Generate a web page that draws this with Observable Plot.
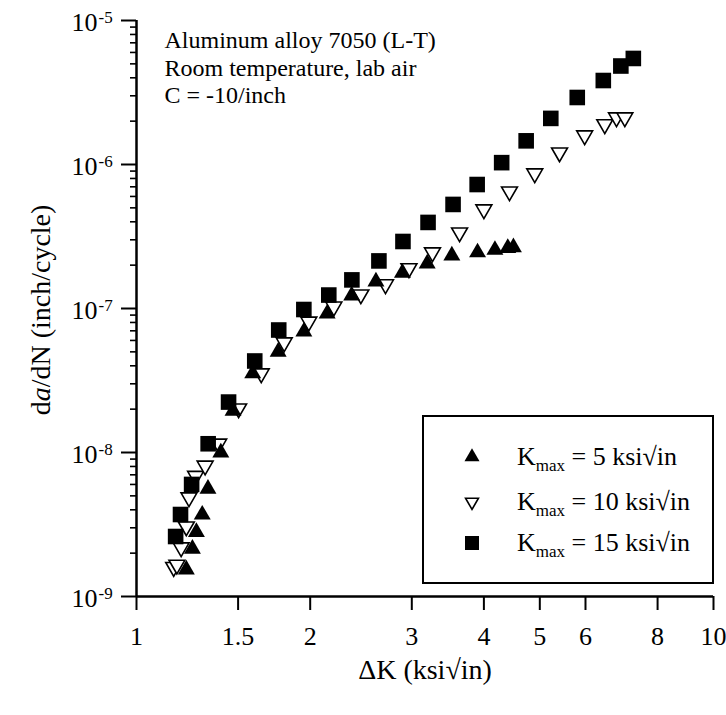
<!DOCTYPE html>
<html><head><meta charset="utf-8">
<script src="https://cdn.jsdelivr.net/npm/d3@7"></script>
<script src="https://cdn.jsdelivr.net/npm/@observablehq/plot@0.6"></script>
<style>body{margin:0;background:#fff} #chart{width:726px;height:715px}</style>
</head><body><div id="chart"></div>
<script>
// ΔK (ksi√in) and da/dN (inch/cycle) for each Kmax
const dk5  = [1.22, 1.25, 1.27, 1.30, 1.33, 1.40, 1.47, 1.59, 1.76, 1.95, 2.14, 2.36, 2.60, 2.89, 3.19, 3.52, 3.90, 4.18, 4.40, 4.50];
const da5  = [1.54e-9, 2.14e-9, 2.8e-9, 3.7e-9, 5.6e-9, 1.0e-8, 1.95e-8, 3.54e-8, 5.0e-8, 6.9e-8, 9.2e-8, 1.23e-7, 1.54e-7, 1.77e-7, 2.05e-7, 2.33e-7, 2.45e-7, 2.55e-7, 2.63e-7, 2.66e-7];
const dk10 = [1.16, 1.175, 1.195, 1.22, 1.233, 1.266, 1.315, 1.388, 1.503, 1.645, 1.803, 1.989, 2.198, 2.448, 2.701, 2.966, 3.258, 3.63, 4.0, 4.43, 4.9, 5.41, 5.98, 6.48, 6.79, 7.02];
const da10 = [1.6e-9, 1.66e-9, 2.19e-9, 3.06e-9, 4.87e-9, 6.87e-9, 8.1e-9, 1.15e-8, 2.02e-8, 3.54e-8, 5.81e-8, 8.1e-8, 1.03e-7, 1.25e-7, 1.47e-7, 1.90e-7, 2.45e-7, 3.37e-7, 4.87e-7, 6.49e-7, 8.66e-7, 1.21e-6, 1.59e-6, 1.90e-6, 2.12e-6, 2.12e-6];
const dk15 = [1.169, 1.192, 1.246, 1.331, 1.444, 1.603, 1.764, 1.95, 2.154, 2.362, 2.631, 2.896, 3.201, 3.537, 3.894, 4.294, 4.735, 5.224, 5.806, 6.442, 6.909, 7.262];
const da15 = [2.61e-9, 3.71e-9, 6.0e-9, 1.15e-8, 2.24e-8, 4.32e-8, 7.09e-8, 9.84e-8, 1.24e-7, 1.58e-7, 2.14e-7, 2.92e-7, 3.96e-7, 5.28e-7, 7.26e-7, 1.03e-6, 1.46e-6, 2.09e-6, 2.92e-6, 3.83e-6, 4.83e-6, 5.45e-6];

const seriesLabels = ["5", "10", "15"];
const xTicks = [1, 1.5, 2, 3, 4, 5, 6, 8, 10];
const xTickLabels = ["1", "1.5", "2", "3", "4", "5", "6", "8", "10"];
const yMajor = [1e-9, 1e-8, 1e-7, 1e-6, 1e-5];
const yExp = ["-9", "-8", "-7", "-6", "-5"];
const notes = ["Aluminum alloy 7050 (L-T)", "Room temperature, lab air", "C = -10/inch"];

const yMinor = [];
for (let k = -9; k < -5; k++) for (let m = 2; m <= 9; m++) yMinor.push(m * Math.pow(10, k));

const s5 = dk5.map((x, i) => ({x, y: da5[i]}));
const s10 = dk10.map((x, i) => ({x, y: da10[i]}));
const s15 = dk15.map((x, i) => ({x, y: da15[i]}));

const FONT = "'Liberation Serif', 'Times New Roman', serif";

const chart = Plot.plot({
  width: 726, height: 715,
  marginLeft: 136, marginRight: 13, marginTop: 20, marginBottom: 119,
  style: {fontFamily: FONT, fontSize: "24px", background: "white", color: "black"},
  x: {type: "log", domain: [1, 10]},
  y: {type: "log", domain: [1e-9, 1e-5]},
  marks: [
    Plot.axisY({ticks: yMinor, tickSize: 6, tickFormat: () => "", strokeWidth: 1.6, label: null}),
    Plot.axisY({ticks: yMajor, tickSize: 15, tickFormat: () => "", strokeWidth: 2, label: null}),
    Plot.axisX({ticks: xTicks, tickSize: 14, tickPadding: 16, tickFormat: d => xTickLabels[xTicks.indexOf(d)], strokeWidth: 2, fontSize: 26, label: null}),
    Plot.ruleX([1], {strokeWidth: 2.5}),
    Plot.ruleY([1e-9], {strokeWidth: 2.5}),
    Plot.text(yMajor, {y: d => d, frameAnchor: "left", text: () => "10", textAnchor: "end", lineAnchor: "bottom", dx: -39, dy: 10, fontSize: 26}),
    Plot.text(yMajor, {y: d => d, frameAnchor: "left", text: (d, i) => yExp[i], textAnchor: "start", lineAnchor: "bottom", dx: -38, dy: 2, fontSize: 17}),
    Plot.text([notes.join("\n")], {frameAnchor: "top-left", text: d => d, textAnchor: "start", lineAnchor: "top", dx: 28, dy: 8, lineHeight: 1.15, fontSize: 24}),
    Plot.text(["ΔK (ksi√in)"], {frameAnchor: "bottom", text: d => d, lineAnchor: "bottom", dy: 82, fontSize: 28}),
    Plot.dot(s10, {x: "x", y: "y", symbol: "triangle", rotate: 180, r: 5.9, fill: "white", stroke: "black", strokeWidth: 1.6}),
    Plot.dot(s5, {x: "x", y: "y", symbol: "triangle", r: 6.3, fill: "black", stroke: "none"}),
    Plot.dot(s15, {x: "x", y: "y", symbol: "square", r: 8.8, fill: "black", stroke: "none"})
  ]
});
document.getElementById("chart").appendChild(chart);

const svg = d3.select(chart);
// y-axis title with italic a
const yt = svg.append("text")
  .attr("transform", "translate(50,310) rotate(-90)")
  .attr("text-anchor", "middle")
  .attr("font-family", FONT).attr("font-size", 28).attr("fill", "black");
yt.append("tspan").text("d");
yt.append("tspan").attr("font-style", "italic").text("a");
yt.append("tspan").text("/dN (inch/cycle)");

// legend
const lg = svg.append("g").attr("font-family", FONT).attr("fill", "black").attr("text-anchor", "start");
lg.append("rect").attr("x", 423).attr("y", 416).attr("width", 290).attr("height", 167)
  .attr("fill", "white").attr("stroke", "black").attr("stroke-width", 2);
const rows = [
  {y: 457, sym: d3.symbolTriangle, size: Math.PI * 5.6 * 5.6, rot: 0, fill: "black", stroke: "none"},
  {y: 502, sym: d3.symbolTriangle, size: Math.PI * 4.8 * 4.8, rot: 180, fill: "white", stroke: "black"},
  {y: 543, sym: d3.symbolSquare, size: Math.PI * 7.9 * 7.9, rot: 0, fill: "black", stroke: "none"}
];
rows.forEach((r, i) => {
  lg.append("path").attr("d", d3.symbol(r.sym, r.size)())
    .attr("transform", `translate(472,${r.y}) rotate(${r.rot})`)
    .attr("fill", r.fill).attr("stroke", r.stroke).attr("stroke-width", 1.6);
  const t = lg.append("text").attr("x", 517).attr("y", r.y + 8).attr("font-size", 26).attr("text-anchor", "start");
  t.append("tspan").text("K");
  t.append("tspan").attr("font-size", 17).attr("dy", 6).text("max");
  t.append("tspan").attr("dy", -6).text(` = ${seriesLabels[i]} ksi√in`);
});
</script>
</body></html>
